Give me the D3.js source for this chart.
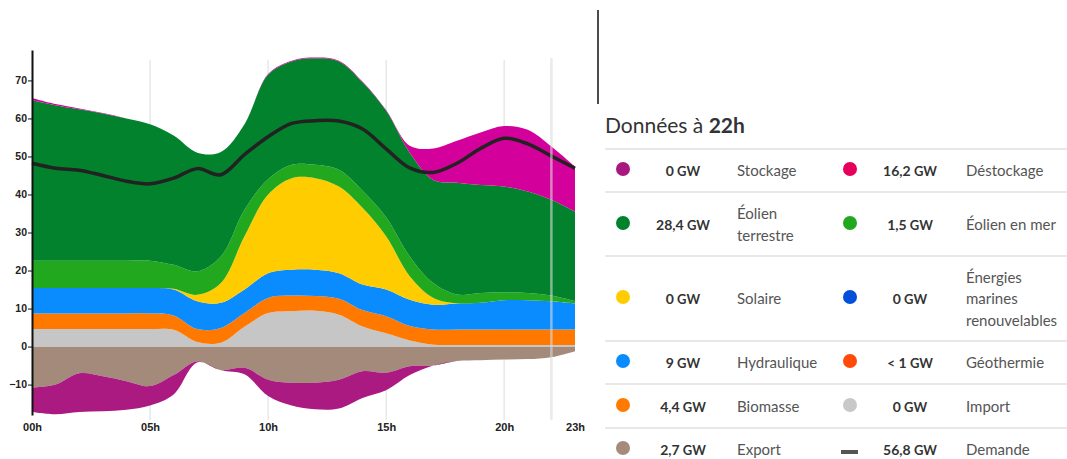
<!DOCTYPE html>
<html>
<head>
<meta charset="utf-8">
<script src="https://cdn.jsdelivr.net/npm/d3@7"></script>
<style>
  body { margin: 0; background: #fff; }
  svg { display: block; font-family: Lato, "Open Sans", sans-serif; }
</style>
</head>
<body>
<div id="chart"></div>
<script>
// hourly production (GW)
var hours = [0,1,2,3,4,5,6,7,8,9,10,11,12,13,14,15,16,17,18,19,20,21,22,23];
var importGW = [4.6,4.6,4.6,4.6,4.6,4.6,4.4,1.2,1.0,5.2,8.8,9.3,9.4,8.4,5.3,3.5,1.6,0.5,0.4,0.4,0.4,0.4,0.4,0.4];
var biomasse = [4.1,4.1,4.1,4.1,4.1,4.1,3.8,3.4,3.9,3.6,4.0,4.1,3.9,4.2,4.3,4.5,3.8,4.0,4.1,4.1,4.1,4.1,4.1,4.1];
var hydraulique = [6.7,6.7,6.7,6.7,6.7,6.7,6.8,7.3,6.6,6.2,6.5,6.8,6.9,6.7,6.7,7.0,6.9,6.5,6.8,7.0,7.7,7.7,7.4,6.8];
var solaire = [0,0,0,0,0,0,0.2,1.7,5.2,14,20.7,24.1,24.1,22.8,20.2,14,6.2,1.8,0.1,0,0,0,0,0];
var eolienMer = [7.2,7.2,7.2,7.2,7.2,7.2,6.3,6.2,7,7,4,3.5,3.5,4.4,4.5,5,5.2,3.9,2.3,2.6,2.1,1.9,1.5,0.6];
var eolienTerrestre = [42.2,40.9,39.8,38.7,37.4,35.9,34,31.2,27.5,22.5,27.5,27.2,28,28.5,28.5,28,27.3,27.1,29.4,28.4,27.8,26.7,25.2,23.6];
var destockage = [0.6,0.3,0.2,0.1,0,0,0,0,0,0,0.2,0.2,0.2,0.2,0.2,0.2,1.8,8.3,11,13.8,15.9,16.2,14,11.8];
var exportGW = [10.8,10.0,7.0,7.8,9.1,10.4,7.5,3.9,6.2,5.6,8.7,9.5,9.5,8.7,6.5,6.9,5.2,5.0,3.8,3.6,3.4,3.3,2.8,1.2];
var stockage = [6.4,7.8,10.2,9.2,7.5,5.1,5.1,0.3,0,1.7,4.3,6.0,7.0,7.6,7.0,4.6,2.3,0,0,0,0,0,0,0];
var demande = [48.2,46.9,46.4,45.0,43.5,42.8,44.3,46.8,45.2,50.5,55.2,58.7,59.4,59.3,57.2,52,47,45.8,48.2,52.1,54.8,53.3,50.1,46.9];

var yTicks = [-10,0,10,20,30,40,50,60,70];
var xTicks = [0,5,10,15,20,23];
var gridHours = [5,10,15,20];
var selectedHour = 22;

// legend table (values at 22h)
var legNames = ["Stockage","Déstockage","Éolien|terrestre","Éolien en mer","Solaire","Énergies|marines|renouvelables","Hydraulique","Géothermie","Biomasse","Import","Export","Demande"];
var legNums = ["0","16,2","28,4","1,5","0","0","9","< 1","4,4","0","2,7","56,8"];
var legColors = ["#a8197f","#e6005c","#00832c","#22a81e","#ffcc00","#0050dc","#0a8cff","#ff4a0a","#ff7a00","#c8c8c8","#a68b7c","#555555"];

var W = 1067, H = 459;
var svg = d3.select("#chart").append("svg").attr("width", W).attr("height", H);

var x = d3.scaleLinear().domain([0, 23]).range([32, 575]);
var y = d3.scaleLinear().domain([-18, 78]).range([415, 50]);

var rows = hours.map(function(h, i) {
  return { h: h, import: importGW[i], biomasse: biomasse[i], hydraulique: hydraulique[i],
    solaire: solaire[i], eolienMer: eolienMer[i], eolienTerrestre: eolienTerrestre[i],
    destockage: destockage[i], export: -exportGW[i], stockage: -stockage[i] };
});

var posKeys = ["import","biomasse","hydraulique","solaire","eolienMer","eolienTerrestre","destockage"];
var negKeys = ["export","stockage"];
var fill = { import: "#c6c6c6", biomasse: "#ff7900", hydraulique: "#0a8cff", solaire: "#ffcc00",
  eolienMer: "#22a81e", eolienTerrestre: "#02822c", destockage: "#d4009b",
  export: "#a48a7b", stockage: "#aa1a80" };

var posStack = d3.stack().keys(posKeys)(rows);
var negStack = d3.stack().keys(negKeys)(rows);

var curve = d3.curveCatmullRom.alpha(0.5);

// grid
svg.append("g").selectAll("line").data(gridHours).enter().append("line")
  .attr("x1", function(d) { return x(d); }).attr("x2", function(d) { return x(d); })
  .attr("y1", 60).attr("y2", 420)
  .attr("stroke", "#e8e8e8").attr("stroke-width", 1.5);

var area = d3.area()
  .x(function(d) { return x(d.data.h); })
  .y0(function(d) { return y(d[0]); })
  .y1(function(d) { return y(d[1]); })
  .curve(curve);

svg.append("g").selectAll("path").data(negStack.concat(posStack)).enter().append("path")
  .attr("d", area)
  .attr("fill", function(d) { return fill[d.key]; });

var line = d3.line()
  .x(function(d, i) { return x(hours[i]); })
  .y(function(d) { return y(d); })
  .curve(curve);

svg.append("path").datum(demande)
  .attr("d", line)
  .attr("fill", "none").attr("stroke", "#222").attr("stroke-width", 3.5);

// hover line at 22h
svg.append("line")
  .attr("x1", x(selectedHour)).attr("x2", x(selectedHour))
  .attr("y1", 58).attr("y2", 420)
  .attr("stroke", "#dcdcdc").attr("stroke-opacity", 0.6).attr("stroke-width", 2.5);

// axes
var yAxis = svg.append("g").attr("transform", "translate(" + x(0) + ",0)")
  .call(d3.axisLeft(y).tickValues(yTicks).tickSize(4).tickSizeOuter(0).tickPadding(1));
yAxis.select(".domain").attr("stroke", "#111").attr("stroke-width", 2);
yAxis.selectAll(".tick line").attr("stroke", "#111");
yAxis.selectAll("text").attr("font-size", 10.5).attr("font-weight", "bold").attr("fill", "#222");

var xAxis = svg.append("g").attr("transform", "translate(0," + y(-18) + ")")
  .call(d3.axisBottom(x).tickValues(xTicks).tickSize(0).tickPadding(8)
    .tickFormat(function(d) { return (d < 10 ? "0" : "") + d + "h"; }));
xAxis.select(".domain").remove();
xAxis.selectAll("text").attr("font-size", 11).attr("font-weight", "bold").attr("fill", "#222");

// separator
svg.append("line").attr("x1", 598).attr("x2", 598).attr("y1", 10).attr("y2", 104)
  .attr("stroke", "#111").attr("stroke-width", 1.5);

// legend panel
var title = svg.append("text").attr("x", 605).attr("y", 133)
  .attr("font-size", 21).attr("fill", "#333");
title.append("tspan").text("Données à ");
title.append("tspan").attr("font-weight", "bold").text(selectedHour + "h");

var rowLines = [149, 192, 256, 341, 384, 428];
var rowMid = [170, 224, 298, 362, 406, 449];
svg.append("g").selectAll("line").data(rowLines).enter().append("line")
  .attr("x1", 605).attr("x2", W).attr("y1", function(d) { return d; }).attr("y2", function(d) { return d; })
  .attr("stroke", "#e0e0e0").attr("stroke-width", 1.5);

var colDot = [623, 850], colVal = [683, 910], colLab = [737, 966];
var leg = svg.append("g");
legNames.forEach(function(name, i) {
  var r = Math.floor(i / 2), c = i % 2, cy = rowMid[r];
  if (name === "Demande") {
    leg.append("rect").attr("x", colDot[c] - 9).attr("y", cy + 1).attr("width", 17).attr("height", 4)
      .attr("fill", legColors[i]);
  } else {
    leg.append("circle").attr("cx", colDot[c]).attr("cy", cy - 1).attr("r", 7).attr("fill", legColors[i]);
  }
  var v = leg.append("text").attr("x", colVal[c]).attr("y", cy + 6)
    .attr("text-anchor", "middle").attr("font-weight", "bold").attr("fill", "#333");
  v.append("tspan").attr("font-size", 14).text(legNums[i]);
  v.append("tspan").attr("font-size", 13).text(" GW");
  var parts = name.split("|");
  var t = leg.append("text").attr("x", colLab[c]).attr("font-size", 15).attr("fill", "#555")
    .attr("y", cy + 6 - (parts.length - 1) * 10.75);
  parts.forEach(function(p, k) {
    t.append("tspan").attr("x", colLab[c]).attr("dy", k === 0 ? 0 : 21.5).text(p);
  });
});
</script>
</body>
</html>
